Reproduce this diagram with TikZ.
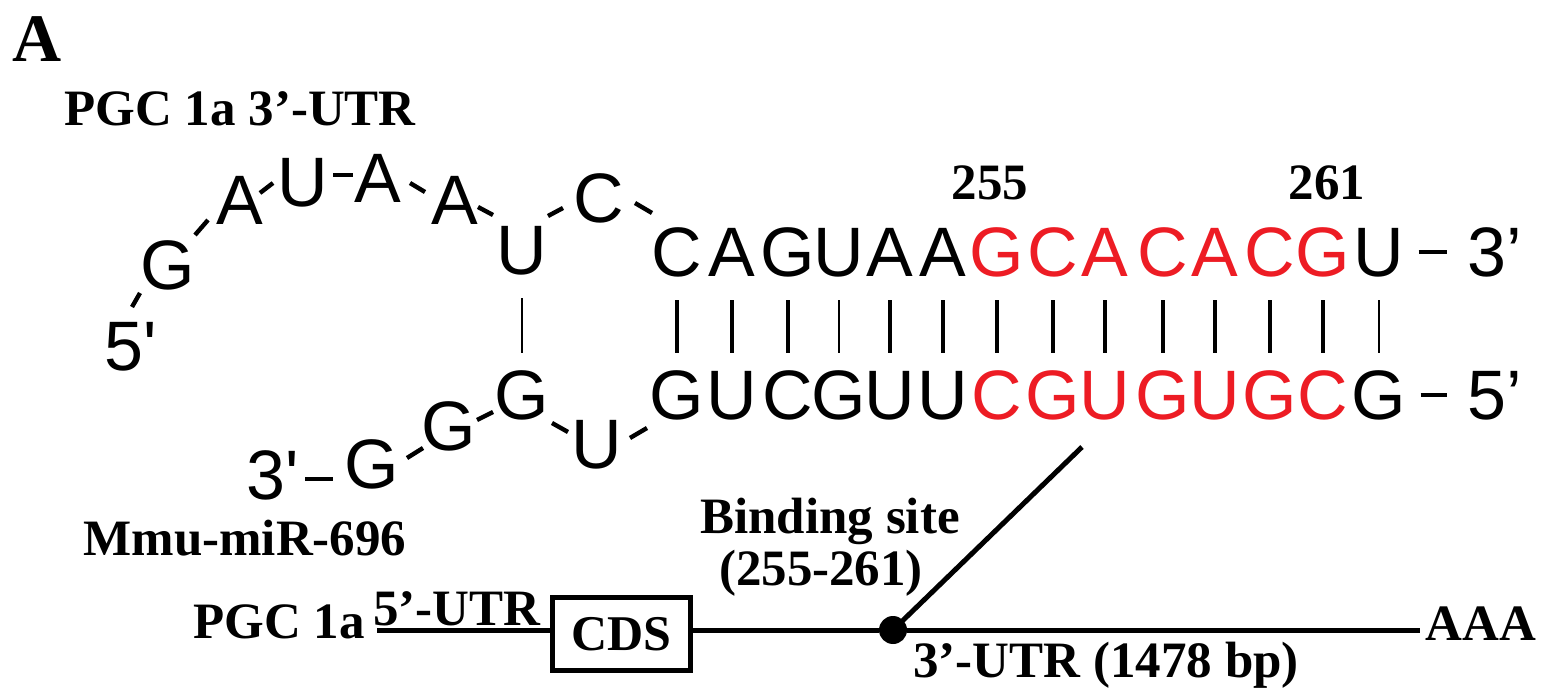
\documentclass[tikz,border=0pt]{standalone}
\usepackage{fontspec}
\setmainfont{Liberation Serif}
\newfontfamily\seqfont{Liberation Sans}
\usetikzlibrary{calc}
\definecolor{seqred}{RGB}{237,28,36}
\begin{document}
\begin{tikzpicture}[x=0.5pt,y=-0.5pt,
  nt/.style={font=\seqfont\fontsize{35}{35}\selectfont, inner sep=2.5pt, text height=25pt, text depth=0pt},
  lab/.style={font=\bfseries\fontsize{25.5}{28}\selectfont, inner sep=0pt},
  pairbar/.style={line width=2.2pt, shorten <=9pt, shorten >=6pt},
  wobble/.style={pairbar, line width=0.9pt},
  tick/.style={line width=2.2pt},
  mrna/.style={line width=2.5pt},
  cdsbox/.style={draw, line width=2.5pt, minimum width=69pt, minimum height=36.5pt, inner sep=0pt, font=\bfseries\fontsize{25}{28}\selectfont},
  bdot/.style={circle, fill, inner sep=0pt, minimum size=14pt}]
\useasboundingbox (0,0) rectangle (1559,700);

% panel letter and labels
\node[lab, anchor=base west, font=\bfseries\fontsize{34}{34}\selectfont] (lA) at (12,62) {A};
\node[lab, anchor=base west] (lutr) at (64,126) {PGC 1a 3’-UTR};
\node[lab, anchor=base] (n255) at (990,200) {255};
\node[lab, anchor=base] (n261) at (1327,200) {261};
\node[lab, anchor=base west] (mir) at (83,555) {Mmu-miR-696};

% loop of the 3'-UTR strand
\node[nt] (p5) at (131,346) {5'};
\node[nt] (g1) at (168,265) {G};
\node[nt] (a1) at (240,200) {A};
\node[nt] (u1) at (303,182) {U};
\node[nt] (a2) at (378,178) {A};
\node[nt] (a3) at (455,200) {A};
\node[nt] (u2) at (522,250) {U};
\node[nt] (c1) at (599,198) {C};

% paired part, top strand
\foreach \ch/\x/\c [count=\i] in {C/677/black, A/732/black, G/788/black, U/839/black, A/890/black, A/943/black,
  G/997/seqred, C/1053/seqred, A/1105/seqred, C/1163/seqred, A/1215/seqred, C/1270/seqred, G/1323/seqred, U/1379/black}
  \node[nt, text=\c] (t\i) at (\x,252) {\ch};
\node[nt, anchor=west] (p3r) at (1462,252) {3’};

% miRNA strand
\node[nt] (p3l) at (273,474) {3'};
\node[nt] (bg1) at (372,463) {G};
\node[nt] (bg2) at (449,426) {G};
\node[nt] (bg3) at (522,395) {G};
\node[nt] (bu) at (597,443) {U};
\foreach \ch/\x/\c [count=\i] in {G/677/black, U/732/black, C/788/black, G/839/black, U/890/black, U/943/black,
  C/997/seqred, G/1053/seqred, U/1105/seqred, G/1163/seqred, U/1215/seqred, G/1270/seqred, C/1323/seqred, G/1379/black}
  \node[nt, text=\c] (b\i) at (\x,395) {\ch};
\node[nt, anchor=west] (p5r) at (1462,395) {5’};

% backbone dashes
\foreach \xa/\ya/\xb/\yb in {132/307/140/293, 195/235/208/220, 260/193/273/183, 333/175/353/175,
  410/183/425/192, 478/207/493/215, 548/216/563/208, 635/203/652/213,
  305/479/333/479, 407/458/423/448, 477/420/493/412, 552/423/568/432, 630/438/647/428}
  \draw[tick] (\xa,\ya) -- (\xb,\yb);
\draw[tick, shorten <=4.5pt, shorten >=7.5pt] (t14.east) -- (p3r.west);
\draw[tick, shorten <=4.5pt, shorten >=7.5pt] (b14.east) -- (p5r.west);

% base pairs
\draw[wobble] (u2.south) -- (bg3.north);
\foreach \i in {1,2,3,5,6,7,8,9,10,11,12,13}
  \draw[pairbar] (t\i.south) -- (b\i.north);
\draw[wobble] (t4.south) -- (b4.north);
\draw[wobble] (t14.south) -- (b14.north);

% gene map
\node[lab, anchor=base east] (pgc) at (365,638) {PGC 1a};
\node[lab, anchor=base west] (utr5) at (373,625) {5’-UTR};
\coordinate (s) at (377,630);
\node[cdsbox] (cds) at (621.5,634) {CDS};
\node[bdot] (dot) at (893,630) {};
\coordinate (e) at (1420,630);
\coordinate (site) at (1082,447);
\draw[mrna] (s) -- (s -| cds.west);
\draw[mrna] (cds.east |- dot) -- (dot) -- (e);
\draw[mrna] (dot.center) -- (site);
\node[lab, anchor=base] (bs1) at (830,533) {Binding site};
\node[lab, anchor=base] (bs2) at (821,585) {(255-261)};
\node[lab, anchor=base west] (utr3) at (913,677) {3’-UTR (1478 bp)};
\node[lab, anchor=base west] (aaa) at (1425,640) {AAA};
\end{tikzpicture}
\end{document}
